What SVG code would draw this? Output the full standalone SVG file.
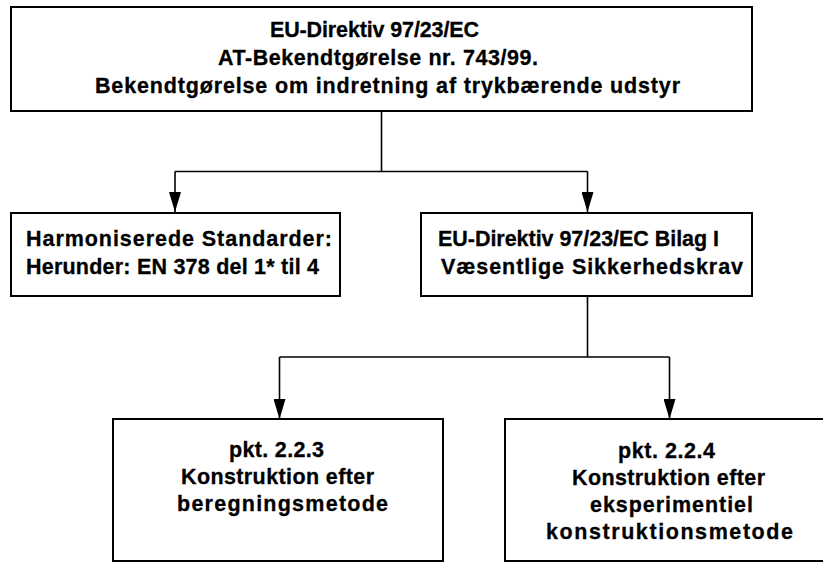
<svg xmlns="http://www.w3.org/2000/svg" width="823" height="563" viewBox="0 0 823 563">
<defs>
<style>
.box{fill:#fff;stroke:#000;stroke-width:2}
.t{font-family:"Liberation Sans",Arial,sans-serif;font-weight:bold;font-size:21.5px;fill:#000;stroke:#000;stroke-width:0.3}
.ln{fill:none;stroke:#000;stroke-width:1.6}
</style>
<marker id="ah" markerUnits="userSpaceOnUse" markerWidth="20" markerHeight="12" viewBox="0 0 20 12" refX="20" refY="6" orient="auto">
<path d="M0,0 L20,6 L0,12 Z" fill="#000"/>
</marker>
</defs>
<rect width="823" height="563" fill="#fff"/>
<g id="connectors">
<path class="ln" d="M381.5,111 V171.5 M175,171.5 H587.5"/>
<path class="ln" d="M175,171.5 V212" marker-end="url(#ah)"/>
<path class="ln" d="M587.5,171.5 V212" marker-end="url(#ah)"/>
<path class="ln" d="M587.5,296 V357 M279.5,357 H669.5"/>
<path class="ln" d="M279.5,357 V419" marker-end="url(#ah)"/>
<path class="ln" d="M669.5,357 V419" marker-end="url(#ah)"/>
</g>
<g id="top">
<rect class="box" x="11" y="7" width="741" height="104"/>
<text class="t" x="270" y="37" textLength="209" lengthAdjust="spacing">EU-Direktiv 97/23/EC</text>
<text class="t" x="218" y="65" textLength="320" lengthAdjust="spacing">AT-Bekendtgørelse nr. 743/99.</text>
<text class="t" x="95" y="93" textLength="585" lengthAdjust="spacing">Bekendtgørelse om indretning af trykbærende udstyr</text>
</g>
<g id="harmoniserede">
<rect class="box" x="11" y="213" width="329" height="83"/>
<text class="t" x="26" y="246" textLength="306" lengthAdjust="spacing">Harmoniserede Standarder:</text>
<text class="t" x="26" y="274" textLength="293" lengthAdjust="spacing">Herunder: EN 378 del 1* til 4</text>
</g>
<g id="bilag">
<rect class="box" x="421" y="213" width="331" height="83"/>
<text class="t" x="438" y="246" textLength="281" lengthAdjust="spacing">EU-Direktiv 97/23/EC Bilag I</text>
<text class="t" x="441" y="274" textLength="302" lengthAdjust="spacing">Væsentlige Sikkerhedskrav</text>
</g>
<g id="pkt223">
<rect class="box" x="113" y="419" width="330" height="142"/>
<text class="t" x="229" y="457" textLength="95" lengthAdjust="spacing">pkt. 2.2.3</text>
<text class="t" x="181" y="484" textLength="193" lengthAdjust="spacing">Konstruktion efter</text>
<text class="t" x="177" y="511" textLength="211" lengthAdjust="spacing">beregningsmetode</text>
</g>
<g id="pkt224">
<rect class="box" x="505" y="419" width="330" height="142"/>
<text class="t" x="618" y="458" textLength="97" lengthAdjust="spacing">pkt. 2.2.4</text>
<text class="t" x="572" y="485" textLength="193" lengthAdjust="spacing">Konstruktion efter</text>
<text class="t" x="590" y="512" textLength="163" lengthAdjust="spacing">eksperimentiel</text>
<text class="t" x="546" y="539" textLength="247" lengthAdjust="spacing">konstruktionsmetode</text>
</g>
</svg>
